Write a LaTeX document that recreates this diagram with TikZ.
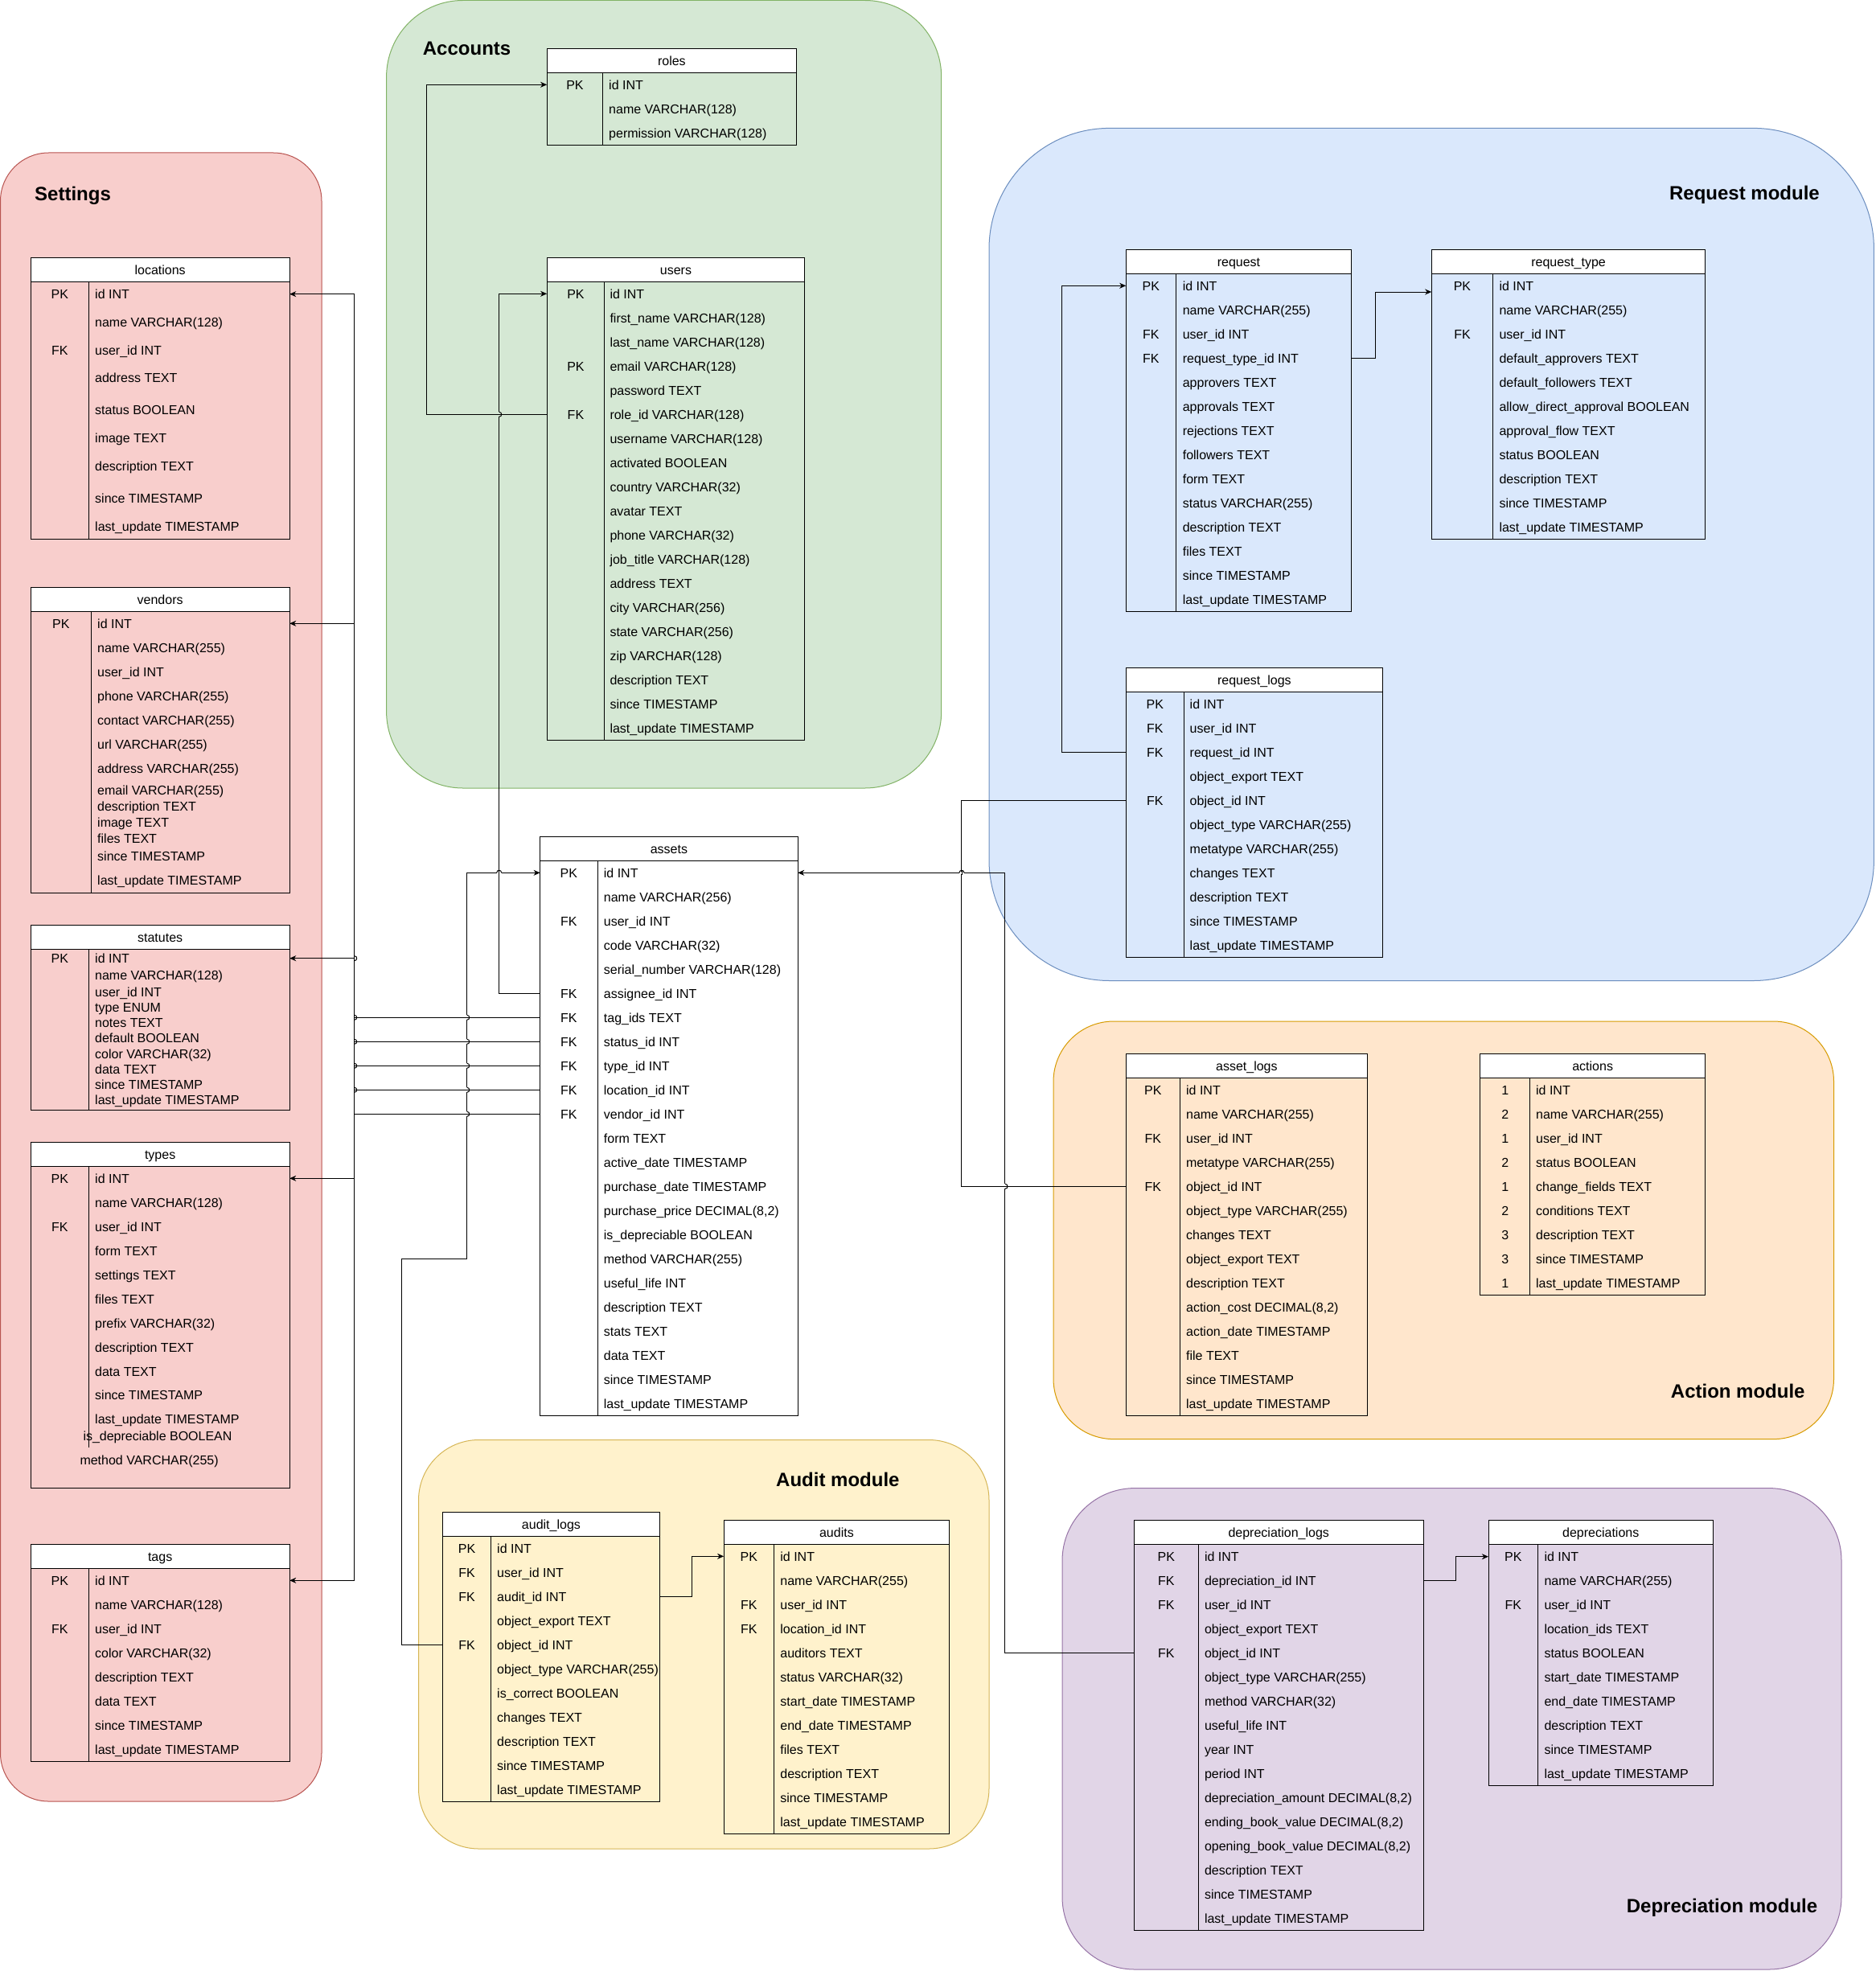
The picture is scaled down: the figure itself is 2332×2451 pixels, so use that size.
\documentclass[tikz,border=0pt]{standalone}
\usepackage{fontspec}
\setmainfont{Liberation Sans}
\usetikzlibrary{arrows.meta}

% module colours
\definecolor{setfill}{HTML}{F8CECC} \definecolor{setline}{HTML}{B85450}
\definecolor{accfill}{HTML}{D5E8D4} \definecolor{accline}{HTML}{82B366}
\definecolor{reqfill}{HTML}{DAE8FC} \definecolor{reqline}{HTML}{6C8EBF}
\definecolor{actfill}{HTML}{FFE6CC} \definecolor{actline}{HTML}{D79B00}
\definecolor{audfill}{HTML}{FFF2CC} \definecolor{audline}{HTML}{D6B656}
\definecolor{depfill}{HTML}{E1D5E7} \definecolor{depline}{HTML}{9673A6}

\newcommand\cellfont{\fontsize{16}{19}\selectfont}
\newcommand\grpfont{\fontsize{24}{29}\selectfont\bfseries}

\tikzset{
  module/.style={line width=1pt},
  tblline/.style={draw=black, line width=1pt},
  hdrtext/.style={font=\cellfont, inner sep=0pt, text height=11.5pt, text depth=0pt},
  rowbox/.style={inner sep=0pt, minimum height=30pt},
  keytext/.style={font=\cellfont, inner sep=0pt, text height=11.5pt, text depth=0pt},
  fieldtext/.style={font=\cellfont, anchor=west, inner sep=0pt, text height=11.5pt, text depth=0pt},
  grptitle/.style={font=\grpfont, inner sep=0pt, text height=17.2pt, text depth=0pt},
  fkline/.style={draw=black, line width=1pt},
  fktip/.style={-{Stealth[length=8pt,width=7pt,inset=2.5pt]}},
}

% table frame: name, title, x1, x2, key divider x, top, bottom, divider end
\newcommand\tablebox[8]{%
  \draw[tblline] ({#3},{#6}) rectangle ({#4},{#7});
  \draw[tblline, fill=white] ({#3},{#6}) rectangle ({#4},{#6+30});
  \draw[tblline] ({#5},{#6+30}) -- ({#5},{#8});
  \node[hdrtext] (#1) at ({(#3+#4)/2},{#6+15}) {#2};
}
% evenly spaced rows: name, x1, x2, divider x, text x, first row y, key/field list
\newcommand\tablerows[7]{%
  \foreach [count=\i] \rk/\rf in {#7} {
    \node[rowbox, minimum width={#3-#2}] (#1-\i) at ({(#2+#3)/2},{#6+30*(\i-1)}) {};
    \node[keytext] (#1-k\i) at ({(#2+#4)/2},{#6+30*(\i-1)}) {\rk};
    \node[fieldtext] (#1-f\i) at ({#5},{#6+30*(\i-1)}) {\rf};
  }
}
% rows at given heights: name, x1, x2, divider x, text x, y/key/field list
\newcommand\tablerowsat[6]{%
  \foreach [count=\i] \ry/\rk/\rf in {#6} {
    \node[rowbox, minimum width={#3-#2}] (#1-\i) at ({(#2+#3)/2},\ry) {};
    \node[keytext] (#1-k\i) at ({(#2+#4)/2},\ry) {\rk};
    \node[fieldtext] (#1-f\i) at ({#5},\ry) {\rf};
  }
}
% small arc on a vertical line (overlapping lines, no gap)
\newcommand\jumpright[2]{\draw[fkline] ({#1},{#2-3}) .. controls ({#1+4},{#2-3}) and ({#1+4},{#2+3}) .. ({#1},{#2+3});}
% vertical line jumping over a horizontal one: x, y, background
\newcommand\vgap[3]{%
  \fill[#3] ({#1-1.6},{#2-3}) rectangle ({#1+1.6},{#2+3});
  \draw[fkline] ({#1-2.5},{#2}) -- ({#1+2.5},{#2});
  \draw[fkline] ({#1},{#2-3}) .. controls ({#1+4},{#2-3}) and ({#1+4},{#2+3}) .. ({#1},{#2+3});
}
% horizontal line jumping over a vertical one: x, y, background
\newcommand\hgap[3]{%
  \fill[#3] ({#1-3},{#2-1.6}) rectangle ({#1+3},{#2+1.6});
  \draw[fkline] ({#1},{#2-2.5}) -- ({#1},{#2+2.5});
  \draw[fkline] ({#1-3},{#2}) .. controls ({#1-3},{#2-4}) and ({#1+3},{#2-4}) .. ({#1+3},{#2});
}

\begin{document}
\catcode`\_=12
\begin{tikzpicture}[x=1pt,y=-1pt]
\useasboundingbox (0,0) rectangle (2332,2451);
\fill[white] (0,0) rectangle (2332,2451);

% ---- modules ----
\draw[module, fill=setfill, draw=setline, rounded corners=60pt] (0.5,190) rectangle (400,2240);
\draw[module, fill=accfill, draw=accline, rounded corners=95pt] (480.6,0.5) rectangle (1170.7,980);
\draw[module, fill=reqfill, draw=reqline, rounded corners=150pt] (1230,159.4) rectangle (2330.4,1219.5);
\draw[module, fill=actfill, draw=actline, rounded corners=75pt] (1310,1270) rectangle (2280.5,1789.6);
\draw[module, fill=audfill, draw=audline, rounded corners=75pt] (520.5,1790.5) rectangle (1230,2299);
\draw[module, fill=depfill, draw=depline, rounded corners=90pt] (1321,1850.6) rectangle (2290,2449);

\node[grptitle, anchor=west] (ttl-set) at (43,240.7) {Settings};
\node[grptitle, anchor=west] (ttl-acc) at (525.7,60) {Accounts};
\node[grptitle, anchor=east] (ttl-req) at (2263,239.5) {Request module};
\node[grptitle, anchor=west] (ttl-act) at (2077.7,1730) {Action module};
\node[grptitle, anchor=west] (ttl-aud) at (965,1840) {Audit module};
\node[grptitle, anchor=west] (ttl-dep) at (2022.6,2369.6) {Depreciation module};

% ---- settings ----
\tablebox{loc}{locations}{38.3}{360}{110.3}{320.7}{670}{670}
\tablerowsat{loc}{38.3}{360}{110.3}{118}{365.7/PK/id INT, 400.7//name VARCHAR(128), 435.7/FK/user_id INT, 470//address TEXT, 510//status BOOLEAN, 545//image TEXT, 580//description TEXT, 620//since TIMESTAMP, 655//last_update TIMESTAMP}

\tablebox{ven}{vendors}{38.3}{360}{113.3}{730.7}{1110}{1110}
\tablerowsat{ven}{38.3}{360}{113.3}{121}{775.3/PK/id INT, 805.7//name VARCHAR(255), 835.3//user_id INT, 865.3//phone VARCHAR(255), 895.3//contact VARCHAR(255), 925.3//url VARCHAR(255), 955.3//address VARCHAR(255), 982.3//email VARCHAR(255), 1002.3//description TEXT, 1022.3//image TEXT, 1042.3//files TEXT, 1065//since TIMESTAMP, 1095//last_update TIMESTAMP}

\tablebox{sta}{statutes}{38.3}{360}{110.3}{1150.7}{1380}{1380}
\tablerowsat{sta}{38.3}{360}{110.3}{118}{1191.7/PK/id INT, 1212.3//name VARCHAR(128), 1233.3//user_id INT, 1252.7//type ENUM, 1271.7//notes TEXT, 1290.7//default BOOLEAN, 1311//color VARCHAR(32), 1329.3//data TEXT, 1348.3//since TIMESTAMP, 1367.3//last_update TIMESTAMP}

\tablebox{typ}{types}{38.3}{360}{110.3}{1420.7}{1850}{1800}
\tablerowsat{typ}{38.3}{360}{110.3}{118}{1465.3/PK/id INT, 1495.7//name VARCHAR(128), 1525.3/FK/user_id INT, 1555.3//form TEXT, 1585.3//settings TEXT, 1615.3//files TEXT, 1645.3//prefix VARCHAR(32), 1675.3//description TEXT, 1705.3//data TEXT, 1735//since TIMESTAMP, 1765//last_update TIMESTAMP}
\node[fieldtext] (typ-f12) at (103.3,1785.7) {is_depreciable BOOLEAN};
\node[fieldtext] (typ-f13) at (99.3,1815.7) {method VARCHAR(255)};

\tablebox{tag}{tags}{38.3}{360}{110.3}{1920.7}{2190}{2190}
\tablerows{tag}{38.3}{360}{110.3}{118}{1965.3}{PK/id INT, /name VARCHAR(128), FK/user_id INT, /color VARCHAR(32), /description TEXT, /data TEXT, /since TIMESTAMP, /last_update TIMESTAMP}

% ---- accounts ----
\tablebox{rol}{roles}{680.3}{990.5}{749.6}{60.3}{180.3}{180.3}
\tablerows{rol}{680.3}{990.5}{749.6}{757}{105.3}{PK/id INT, /name VARCHAR(128), /permission VARCHAR(128)}

\tablebox{usr}{users}{680.3}{1000.7}{751.6}{320.7}{920.3}{920.3}
\tablerows{usr}{680.3}{1000.7}{751.6}{758.3}{365.3}{PK/id INT, /first_name VARCHAR(128), /last_name VARCHAR(128), PK/email VARCHAR(128), /password TEXT, FK/role_id VARCHAR(128), /username VARCHAR(128), /activated BOOLEAN, /country VARCHAR(32), /avatar TEXT, /phone VARCHAR(32), /job_title VARCHAR(128), /address TEXT, /city VARCHAR(256), /state VARCHAR(256), /zip VARCHAR(128), /description TEXT, /since TIMESTAMP, /last_update TIMESTAMP}

% ---- assets ----
\tablebox{ast}{assets}{671.8}{992}{743}{1040.7}{1760.3}{1760.3}
\tablerows{ast}{671.8}{992}{743}{750.7}{1085.3}{PK/id INT, /name VARCHAR(256), FK/user_id INT, /code VARCHAR(32), /serial_number VARCHAR(128), FK/assignee_id INT, FK/tag_ids TEXT, FK/status_id INT, FK/type_id INT, FK/location_id INT, FK/vendor_id INT, /form TEXT, /active_date TIMESTAMP, /purchase_date TIMESTAMP, /{purchase_price DECIMAL(8,2)}, /is_depreciable BOOLEAN, /method VARCHAR(255), /useful_life INT, /description TEXT, /stats TEXT, /data TEXT, /since TIMESTAMP, /last_update TIMESTAMP}

% ---- request module ----
\tablebox{req}{request}{1400.4}{1680.5}{1462.4}{310.7}{760.3}{760.3}
\tablerows{req}{1400.4}{1680.5}{1462.4}{1470.6}{355.3}{PK/id INT, /name VARCHAR(255), FK/user_id INT, FK/request_type_id INT, /approvers TEXT, /approvals TEXT, /rejections TEXT, /followers TEXT, /form TEXT, /status VARCHAR(255), /description TEXT, /files TEXT, /since TIMESTAMP, /last_update TIMESTAMP}

\tablebox{rqt}{request_type}{1780.4}{2120.7}{1856.5}{310.7}{670.3}{670.3}
\tablerows{rqt}{1780.4}{2120.7}{1856.5}{1864.3}{355.3}{PK/id INT, /name VARCHAR(255), FK/user_id INT, /default_approvers TEXT, /default_followers TEXT, /allow_direct_approval BOOLEAN, /approval_flow TEXT, /status BOOLEAN, /description TEXT, /since TIMESTAMP, /last_update TIMESTAMP}

\tablebox{rql}{request_logs}{1400.4}{1719.3}{1472.3}{830.3}{1190.3}{1190.3}
\tablerows{rql}{1400.4}{1719.3}{1472.3}{1479.5}{875.3}{PK/id INT, FK/user_id INT, FK/request_id INT, /object_export TEXT, FK/object_id INT, /object_type VARCHAR(255), /metatype VARCHAR(255), /changes TEXT, /description TEXT, /since TIMESTAMP, /last_update TIMESTAMP}

% ---- action module ----
\tablebox{alg}{asset_logs}{1400.3}{1700.4}{1467.2}{1310.7}{1760.3}{1760.3}
\tablerows{alg}{1400.3}{1700.4}{1467.2}{1474.9}{1355.3}{PK/id INT, /name VARCHAR(255), FK/user_id INT, /metatype VARCHAR(255), FK/object_id INT, /object_type VARCHAR(255), /changes TEXT, /object_export TEXT, /description TEXT, /{action_cost DECIMAL(8,2)}, /action_date TIMESTAMP, /file TEXT, /since TIMESTAMP, /last_update TIMESTAMP}

\tablebox{act}{actions}{1840.8}{2120.5}{1902.8}{1310.7}{1610.7}{1610.7}
\tablerows{act}{1840.8}{2120.5}{1902.8}{1909.9}{1355.3}{1/id INT, 2/name VARCHAR(255), 1/user_id INT, 2/status BOOLEAN, 1/change_fields TEXT, 2/conditions TEXT, 3/description TEXT, 3/since TIMESTAMP, 1/last_update TIMESTAMP}

% ---- audit module ----
\tablebox{aul}{audit_logs}{550.4}{820.5}{610.7}{1880.3}{2240.3}{2240.3}
\tablerows{aul}{550.4}{820.5}{610.7}{618}{1925.3}{PK/id INT, FK/user_id INT, FK/audit_id INT, /object_export TEXT, FK/object_id INT, /object_type VARCHAR(255), /is_correct BOOLEAN, /changes TEXT, /description TEXT, /since TIMESTAMP, /last_update TIMESTAMP}

\tablebox{aud}{audits}{900.3}{1180.5}{962.3}{1890.3}{2280.3}{2280.3}
\tablerows{aud}{900.3}{1180.5}{962.3}{970.2}{1935.3}{PK/id INT, /name VARCHAR(255), FK/user_id INT, FK/location_id INT, /auditors TEXT, /status VARCHAR(32), /start_date TIMESTAMP, /end_date TIMESTAMP, /files TEXT, /description TEXT, /since TIMESTAMP, /last_update TIMESTAMP}

% ---- depreciation module ----
\tablebox{dpl}{depreciation_logs}{1410.2}{1770.3}{1490.4}{1890.4}{2400.4}{2400.4}
\tablerows{dpl}{1410.2}{1770.3}{1490.4}{1497.8}{1935.7}{PK/id INT, FK/depreciation_id INT, FK/user_id INT, /object_export TEXT, FK/object_id INT, /object_type VARCHAR(255), /method VARCHAR(32), /useful_life INT, /year INT, /period INT, /{depreciation_amount DECIMAL(8,2)}, /{ending_book_value DECIMAL(8,2)}, /{opening_book_value DECIMAL(8,2)}, /description TEXT, /since TIMESTAMP, /last_update TIMESTAMP}

\tablebox{dep}{depreciations}{1851.1}{2130.4}{1912.4}{1890.4}{2220.7}{2220.7}
\tablerows{dep}{1851.1}{2130.4}{1912.4}{1920.3}{1935.7}{PK/id INT, /name VARCHAR(255), FK/user_id INT, /location_ids TEXT, /status BOOLEAN, /start_date TIMESTAMP, /end_date TIMESTAMP, /description TEXT, /since TIMESTAMP, /last_update TIMESTAMP}

% ---- relations ----
% users.role_id -> roles.id
\draw[fkline, fktip] (usr-6.west) -- ++(-149.8,0) |- (rol-1.west);
% assets.assignee_id -> users.id
\draw[fkline, fktip] (ast-6.west) -- ++(-51.1,0) |- (usr-1.west);
% assets foreign keys -> settings tables
\foreach \src/\dst in {7/tag, 8/sta, 9/typ, 10/loc, 11/ven} {
  \draw[fkline, fktip] (ast-\src.west) -- ++(-231.1,0) |- (\dst-1.east);
}
% audit_logs.object_id -> assets.id
\draw[fkline, fktip] (aul-5.west) -- ++(-50.4,0) |- (580.7,1565.3) |- (ast-1.west);
% depreciation_logs.object_id -> assets.id
\draw[fkline, fktip] (dpl-5.west) -- ++(-160.2,0) |- (ast-1.east);
% request_logs.object_id -- asset_logs.object_id
\draw[fkline] (rql-5.west) -- ++(-204.4,0) |- (alg-5.west);
% request_logs.request_id -> request.id
\draw[fkline, fktip] (rql-3.west) -- ++(-79.7,0) |- (req-1.west);
% request.request_type_id -> request_type.id
\draw[fkline, fktip] (req-4.east) -- ++(30.1,0) |- ([yshift=-7.7pt]rqt-1.west);
% audit_logs.audit_id -> audits.id
\draw[fkline, fktip] (aul-3.east) -- ++(39.9,0) |- (aud-1.west);
% depreciation_logs.depreciation_id -> depreciations.id
\draw[fkline, fktip] (dpl-2.east) -- ++(39.8,0) |- (dep-1.west);

% line jumps at crossings
\foreach \jy in {1191.7, 1265.3, 1295.3, 1325.3, 1355.3} {
  \jumpright{440.7}{\jy}
}
\foreach \jy in {1265.3, 1295.3, 1325.3, 1355.3, 1385.3} {
  \vgap{580.7}{\jy}{white}
}
\hgap{620.7}{1085.3}{white}
\vgap{620.7}{515.3}{accfill}
\hgap{1196}{1085.3}{white}
\vgap{1250}{1475.3}{white}
\end{tikzpicture}
\end{document}
